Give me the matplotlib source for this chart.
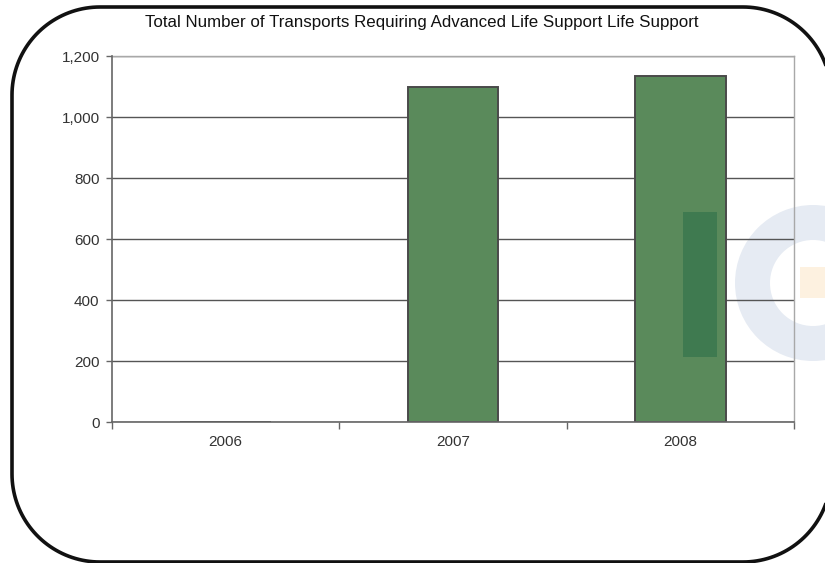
#!/usr/bin/env python3
"""Bar chart: total transports requiring advanced life support, 2006-2008."""
import numpy as np
import matplotlib
matplotlib.use('Agg')
import matplotlib.pyplot as plt
import matplotlib.patches as mpatches
from matplotlib.ticker import FuncFormatter, FixedLocator

plt.rcParams['font.family'] = ['Liberation Sans', 'DejaVu Sans']

YEARS  = ['2006', '2007', '2008']
COUNTS = [0, 1098, 1135]
YTICKS = [0, 200, 400, 600, 800, 1000, 1200]
TITLE  = 'Total Number of Transports Requiring Advanced Life Support Life Support'

fig = plt.figure(figsize=(8.25, 5.63), dpi=100)
fig.patch.set_facecolor('white')
inch = fig.dpi_scale_trans

# ── faint background watermark (ring + orange block) ──────────────────────
ring = mpatches.Wedge((8.13, 2.80), 0.78, 0, 360, width=0.35,
                      facecolor='#e6ebf3', edgecolor='none',
                      transform=inch, zorder=0)
fig.patches.append(ring)
fig.patches.append(mpatches.Rectangle((8.00, 2.65), 0.30, 0.31,
                                      facecolor='#fdf1e0', edgecolor='none',
                                      transform=inch, zorder=0))

# ── rounded outer frame, circular corners (right side runs off canvas) ────
def rounded_outline(x0, y0, x1, y1, r, n=40):
    pts = []
    for cx, cy, a0 in [(x1 - r, y1 - r, 0), (x0 + r, y1 - r, 90),
                       (x0 + r, y0 + r, 180), (x1 - r, y0 + r, 270)]:
        t = np.radians(np.linspace(a0, a0 + 90, n))
        pts.append(np.column_stack([cx + r * np.cos(t), cy + r * np.sin(t)]))
    return np.vstack(pts)

frame = mpatches.Polygon(rounded_outline(0.12, 0.01, 8.31, 5.56, 0.88),
                         closed=True, facecolor='none', edgecolor='#111111',
                         linewidth=2.6, transform=inch, zorder=5)
fig.patches.append(frame)

# ── axes ──────────────────────────────────────────────────────────────────
ax = fig.add_axes([0.1358, 0.2504, 0.8266, 0.6501])
ax.set_facecolor('none')
ax.set_zorder(2)

x = range(len(YEARS))
ax.bar(x, COUNTS, width=0.4, color='#5a8a5b', edgecolor='#4a4a4a',
       linewidth=1.4, zorder=2)

ax.set_xlim(-0.5, len(YEARS) - 0.5)
ax.set_ylim(0, 1200)
ax.set_yticks(YTICKS)
ax.yaxis.set_major_formatter(FuncFormatter(lambda v, p: f'{int(v):,}'))
ax.set_xticks(list(x))
ax.set_xticklabels(YEARS)
ax.xaxis.set_minor_locator(FixedLocator([i - 0.5 for i in range(len(YEARS) + 1)]))
ax.tick_params(axis='x', which='major', length=0, pad=9,
               labelsize=11, labelcolor='#333333')
ax.tick_params(axis='x', which='minor', length=5, color='#666666', width=1)
ax.tick_params(axis='y', length=4, color='#666666', width=1, pad=5,
               labelsize=11, labelcolor='#333333')

ax.grid(axis='y', color='#555555', linewidth=1, zorder=1)
ax.set_axisbelow(True)
for side in ('top', 'right'):
    ax.spines[side].set_color('#a8a8a8')
    ax.spines[side].set_linewidth(1)
for side in ('left', 'bottom'):
    ax.spines[side].set_color('#666666')
    ax.spines[side].set_linewidth(1.2)
    ax.spines[side].set_zorder(3)

fig.text(422 / 825, 1 - 22 / 563, TITLE, ha='center', va='center',
         fontsize=12.2, color='#111111')

# darker green block over the 2008 bar
fig.patches.append(mpatches.Rectangle((6.83, 2.06), 0.34, 1.45,
                                      facecolor='#3f7a50', edgecolor='none',
                                      transform=inch, zorder=4))

fig.savefig('out.png', dpi=100)
